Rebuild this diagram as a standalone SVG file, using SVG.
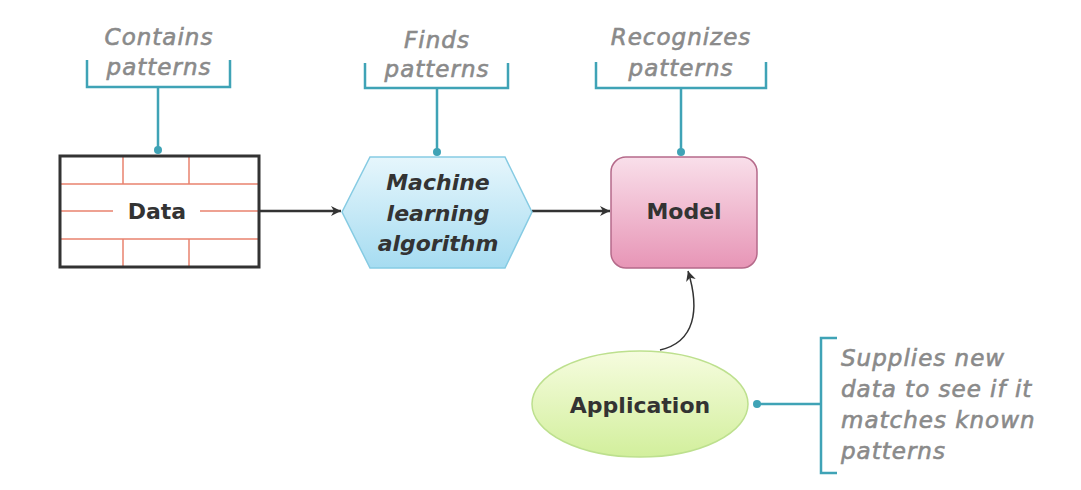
<svg xmlns="http://www.w3.org/2000/svg" width="1081" height="490" viewBox="0 0 1081 490">
<defs>
<linearGradient id="gHex" x1="0" y1="0" x2="0" y2="1"><stop offset="0" stop-color="#e6f6fc"/><stop offset="1" stop-color="#a6dcf1"/></linearGradient>
<linearGradient id="gModel" x1="0" y1="0" x2="0" y2="1"><stop offset="0" stop-color="#f9dfea"/><stop offset="1" stop-color="#e795b6"/></linearGradient>
<linearGradient id="gApp" x1="0" y1="0" x2="0" y2="1"><stop offset="0" stop-color="#f6fcdf"/><stop offset="1" stop-color="#d2ef9c"/></linearGradient>
<marker id="arr" viewBox="0 0 12 12" refX="11" refY="6" markerWidth="12" markerHeight="12" markerUnits="userSpaceOnUse" orient="auto">
<path d="M1,1 L11,6 L1,11 L4,6 Z" fill="#333"/>
</marker>
</defs>
<style>
.note{font-family:"DejaVu Sans","Liberation Sans",sans-serif;font-style:italic;font-size:23px;letter-spacing:1px;fill:#8a8a8a;stroke:#8a8a8a;stroke-width:0.6}
.lbl{font-family:"DejaVu Sans","Liberation Sans",sans-serif;font-weight:700;font-size:22px;fill:#333}
.br{fill:none;stroke:#3fa3b6;stroke-width:2.5}
.dot{fill:#3fa3b6}
.grid{stroke:#e8826e;stroke-width:1.5}
.conn{fill:none;stroke:#333;stroke-width:2.5}
</style>
<rect width="1081" height="490" fill="#ffffff"/>
<g id="note-data">
<text class="note" x="159" y="45" text-anchor="middle">Contains</text>
<text class="note" x="159" y="75" text-anchor="middle">patterns</text>
<path class="br" d="M87,60 V87 H230 V60 M158,87 V150"/>
<circle class="dot" cx="158" cy="150" r="4"/>
</g>
<g id="note-ml">
<text class="note" x="437" y="48" text-anchor="middle">Finds</text>
<text class="note" x="437" y="77" text-anchor="middle">patterns</text>
<path class="br" d="M365,63 V88 H508 V63 M437,88 V152"/>
<circle class="dot" cx="437" cy="152" r="4"/>
</g>
<g id="note-model">
<text class="note" x="681" y="45" text-anchor="middle">Recognizes</text>
<text class="note" x="681" y="76" text-anchor="middle">patterns</text>
<path class="br" d="M596,62 V88 H766 V62 M681,88 V152"/>
<circle class="dot" cx="681" cy="152" r="4"/>
</g>
<g id="note-app">
<path class="br" d="M837,338 H821 V473 H837 M757,404 H821"/>
<circle class="dot" cx="757" cy="404" r="4"/>
<text class="note" x="841" y="366">Supplies new</text>
<text class="note" x="841" y="397">data to see if it</text>
<text class="note" x="841" y="428">matches known</text>
<text class="note" x="841" y="459">patterns</text>
</g>
<g id="connectors">
<path class="conn" d="M259,211 H341" marker-end="url(#arr)"/>
<path class="conn" d="M532,211 H610" marker-end="url(#arr)"/>
<path fill="none" stroke="#333" stroke-width="1.5" d="M660,350 C695,342 700,310 688,271" marker-end="url(#arr)"/>
</g>
<g id="data">
<rect x="60" y="156" width="199" height="111" fill="#fff"/>
<g class="grid">
<line x1="60" y1="184" x2="259" y2="184"/>
<line x1="60" y1="239" x2="259" y2="239"/>
<line x1="60" y1="211" x2="113" y2="211"/>
<line x1="200" y1="211" x2="259" y2="211"/>
<line x1="123" y1="156" x2="123" y2="184"/>
<line x1="189" y1="156" x2="189" y2="184"/>
<line x1="123" y1="239" x2="123" y2="267"/>
<line x1="189" y1="239" x2="189" y2="267"/>
</g>
<rect x="60" y="156" width="199" height="111" fill="none" stroke="#333" stroke-width="3"/>
<text class="lbl" font-size="23" x="157" y="219" text-anchor="middle">Data</text>
</g>
<g id="ml">
<polygon points="342,212 370,157 505,157 532,212 505,268 370,268" fill="url(#gHex)" stroke="#86cbe3" stroke-width="1.5"/>
<text class="lbl" font-size="21" font-style="italic" x="438" y="190" text-anchor="middle">Machine</text>
<text class="lbl" font-size="21" font-style="italic" x="438" y="221" text-anchor="middle">learning</text>
<text class="lbl" font-size="21" font-style="italic" x="438" y="251" text-anchor="middle">algorithm</text>
</g>
<g id="model">
<rect x="611" y="157" width="146" height="111" rx="15" fill="url(#gModel)" stroke="#b56a8a" stroke-width="1.5"/>
<text class="lbl" x="684" y="219" text-anchor="middle">Model</text>
</g>
<g id="application">
<ellipse cx="640" cy="404" rx="108" ry="53" fill="url(#gApp)" stroke="#bde08e" stroke-width="1.5"/>
<text class="lbl" font-size="24" x="640" y="413" text-anchor="middle">Application</text>
</g>
</svg>
